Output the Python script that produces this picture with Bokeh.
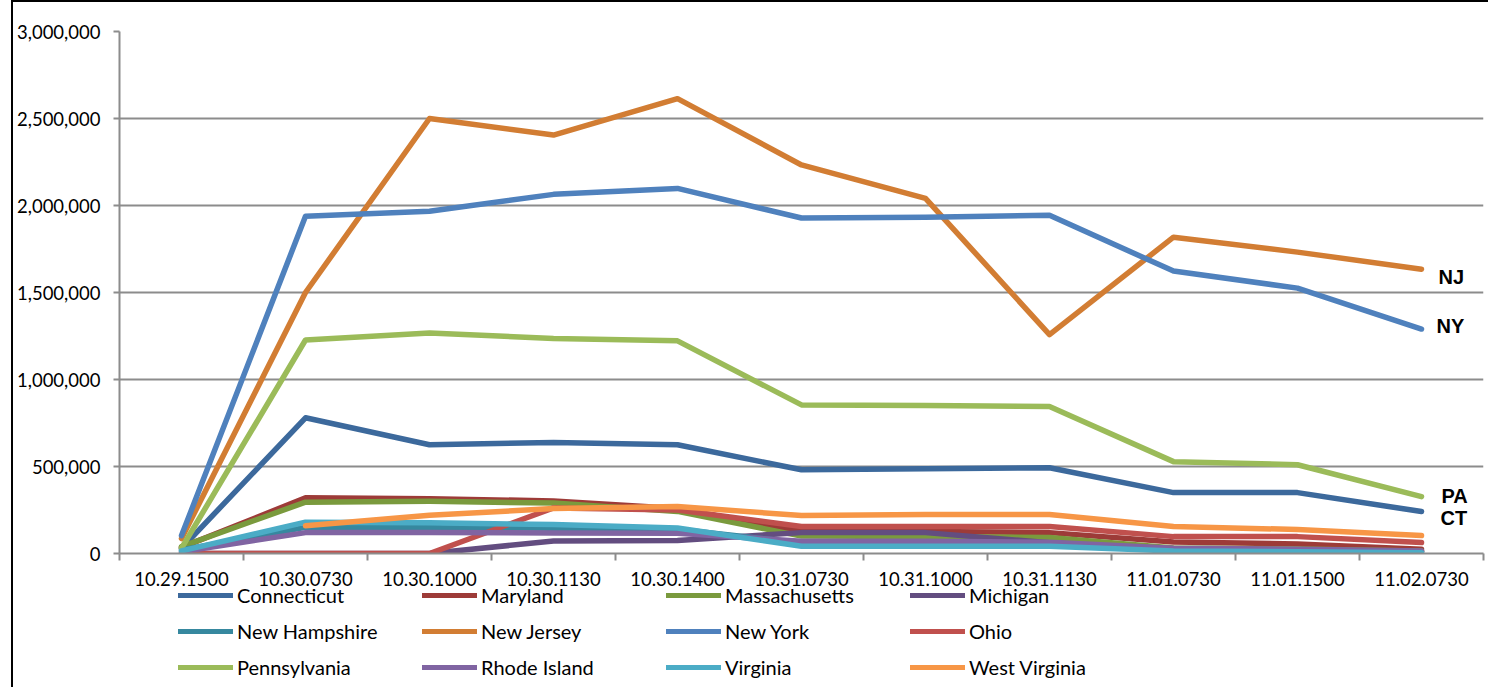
from bokeh.plotting import figure
from bokeh.layouts import column, row
from bokeh.models import (ColumnDataSource, FixedTicker, NumeralTickFormatter,
                          Legend, LegendItem, Div, Spacer)
from bokeh.core.properties import value
from bokeh.embed import file_html
from bokeh.resources import INLINE

nan = float("nan")

categories = ["10.29.1500", "10.30.0730", "10.30.1000", "10.30.1130", "10.30.1400",
              "10.31.0730", "10.31.1000", "10.31.1130", "11.01.0730", "11.01.1500",
              "11.02.0730"]

connecticut   = [30000, 780000, 625000, 638000, 625000, 481000, 487000, 493000, 350000, 350000, 241000]
maryland      = [35000, 320000, 315000, 302000, 258000, 128000, 126000, 120000, 66000, 55000, 25000]
massachusetts = [40000, 295000, 300000, 290000, 242000, 100000, 97000, 92000, 32000, 26000, 15000]
michigan      = [0, 0, 0, 72000, 75000, 120000, 120000, 62000, 20000, 15000, 10000]
new_hampshire = [20000, 150000, 148000, 145000, 140000, 60000, 60000, 55000, 25000, 20000, 10000]
new_jersey    = [86000, 1500000, 2500000, 2405000, 2614000, 2233000, 2041000, 1258000, 1818000, 1732000, 1634000]
new_york      = [103000, 1938000, 1967000, 2064000, 2098000, 1928000, 1933000, 1944000, 1623000, 1525000, 1290000]
ohio          = [0, 0, 0, 262000, 250000, 155000, 155000, 155000, 97000, 97000, 63000]
pennsylvania  = [30000, 1227000, 1267000, 1236000, 1222000, 854000, 851000, 845000, 528000, 510000, 327000]
rhode_island  = [10000, 120000, 120000, 118000, 117000, 70000, 70000, 65000, 30000, 25000, 15000]
virginia      = [15000, 180000, 177000, 166000, 147000, 42000, 42000, 42000, 15000, 10000, 5000]
west_virginia = [nan, 160000, 220000, 258000, 270000, 218000, 224000, 224000, 155000, 138000, 103000]

series_names = ["Connecticut", "Maryland", "Massachusetts", "Michigan",
                "New Hampshire", "New Jersey", "New York", "Ohio",
                "Pennsylvania", "Rhode Island", "Virginia", "West Virginia"]
series_values = [connecticut, maryland, massachusetts, michigan, new_hampshire,
                 new_jersey, new_york, ohio, pennsylvania, rhode_island,
                 virginia, west_virginia]
colors = ["#3C699C", "#9D3B38", "#7A9A3D", "#634D80", "#36889F", "#D27D33",
          "#4F81BD", "#C0504D", "#9BBB59", "#8064A2", "#4BACC6", "#F79646"]

y_ticks = [0, 500000, 1000000, 1500000, 2000000, 2500000, 3000000]

label_texts = ["NJ", "NY", "PA", "CT"]
label_series = [new_jersey, new_york, pennsylvania, connecticut]

FONT = "Lato"
GRID = "#8C8C8C"

n = len(categories)
xs = list(range(n))

# ---------------- main chart ----------------
p = figure(width=1475, height=586, output_backend="svg", toolbar_location=None,
           x_range=(-0.5, n - 0.5), y_range=(y_ticks[0], y_ticks[-1]),
           min_border_left=106, min_border_top=29, min_border_right=5,
           min_border_bottom=34)
p.outline_line_color = None
p.background_fill_color = "white"
p.border_fill_color = "white"

p.xaxis.ticker = FixedTicker(ticks=xs, minor_ticks=[i - 0.5 for i in range(n + 1)])
p.xaxis.major_label_overrides = {i: c for i, c in enumerate(categories)}
p.xaxis.major_tick_out = 0
p.xaxis.major_tick_in = 0
p.xaxis.minor_tick_out = 7
p.xaxis.minor_tick_in = 0
p.xaxis.minor_tick_line_color = GRID
p.xaxis.minor_tick_line_width = 2
p.xaxis.axis_line_color = GRID
p.xaxis.axis_line_width = 2
p.xaxis.major_label_standoff = 11
p.xaxis.major_label_text_font = FONT
p.xaxis.major_label_text_font_size = "18.5px"
p.xaxis.major_label_text_color = "black"

p.yaxis.ticker = FixedTicker(ticks=y_ticks)
p.yaxis.formatter = NumeralTickFormatter(format="0,0")
p.yaxis.major_tick_out = 6
p.yaxis.major_tick_in = 0
p.yaxis.minor_tick_line_color = None
p.yaxis.major_tick_line_color = GRID
p.yaxis.major_tick_line_width = 2
p.yaxis.axis_line_color = GRID
p.yaxis.axis_line_width = 2
p.yaxis.major_label_standoff = 13
p.yaxis.major_label_text_font = FONT
p.yaxis.major_label_text_font_size = "18.5px"
p.yaxis.major_label_text_color = "black"

p.xgrid.grid_line_color = None
p.ygrid.ticker = FixedTicker(ticks=y_ticks)
p.ygrid.grid_line_color = GRID
p.ygrid.grid_line_width = 2

sources = []
for name, vals, col in zip(series_names, series_values, colors):
    src = ColumnDataSource(dict(x=xs, y=vals))
    sources.append(src)
    p.line("x", "y", source=src, line_color=col, line_width=5.5,
           line_cap="round", line_join="round")

lab_src = ColumnDataSource(dict(x=[xs[-1]] * 4, y=[s[-1] for s in label_series],
                                text=label_texts,
                                xo=[17, 15, 20, 19], yo=[8, -3, -1, 6]))
p.text("x", "y", text="text", source=lab_src, x_offset="xo", y_offset="yo",
       text_font=value("Liberation Sans"), text_font_style="bold",
       text_font_size="20px", text_baseline="middle", text_align="left",
       text_color="black")

# ---------------- legend strip (same series, view placed away from data) ----------------
lg = figure(width=1475, height=99, output_backend="svg", toolbar_location=None,
            x_range=(100, 101), y_range=(100, 101),
            min_border_left=106, min_border_right=5, min_border_top=0,
            min_border_bottom=0, x_axis_location=None, y_axis_location=None)
lg.outline_line_color = None
lg.xgrid.visible = False
lg.ygrid.visible = False
lg.background_fill_color = "white"
lg.border_fill_color = "white"

samples = []
for src, col in zip(sources, colors):
    samples.append(lg.line("x", "y", source=src, line_color=col, line_width=5,
                           line_cap="round"))

row_bottoms = [80, 44, 8]
for r_i in range(3):
    items = [LegendItem(label=series_names[r_i * 4 + k],
                        renderers=[samples[r_i * 4 + k]]) for k in range(4)]
    leg = Legend(items=items, orientation="horizontal",
                 location=(59, row_bottoms[r_i]),
                 glyph_width=55, glyph_height=20, label_standoff=4,
                 label_width=185, label_height=20, spacing=0, padding=0,
                 margin=0, border_line_color=None, background_fill_alpha=0,
                 label_text_font=FONT, label_text_font_size="20px",
                 label_text_color="black", label_text_baseline="middle")
    lg.add_layout(leg, "center")

# chart-area border (left and top edges visible in the reference)
top_bar = Div(width=1477, height=2, margin=0, styles={"background-color": "black"})
left_bar = Div(width=2, height=685, margin=0, styles={"background-color": "black"})

layout = row(Spacer(width=11, height=687, margin=0),
             column(top_bar, row(left_bar, column(p, lg, spacing=0), spacing=0),
                    spacing=0),
             spacing=0)
open("out.html", "w").write(file_html(layout, INLINE))
